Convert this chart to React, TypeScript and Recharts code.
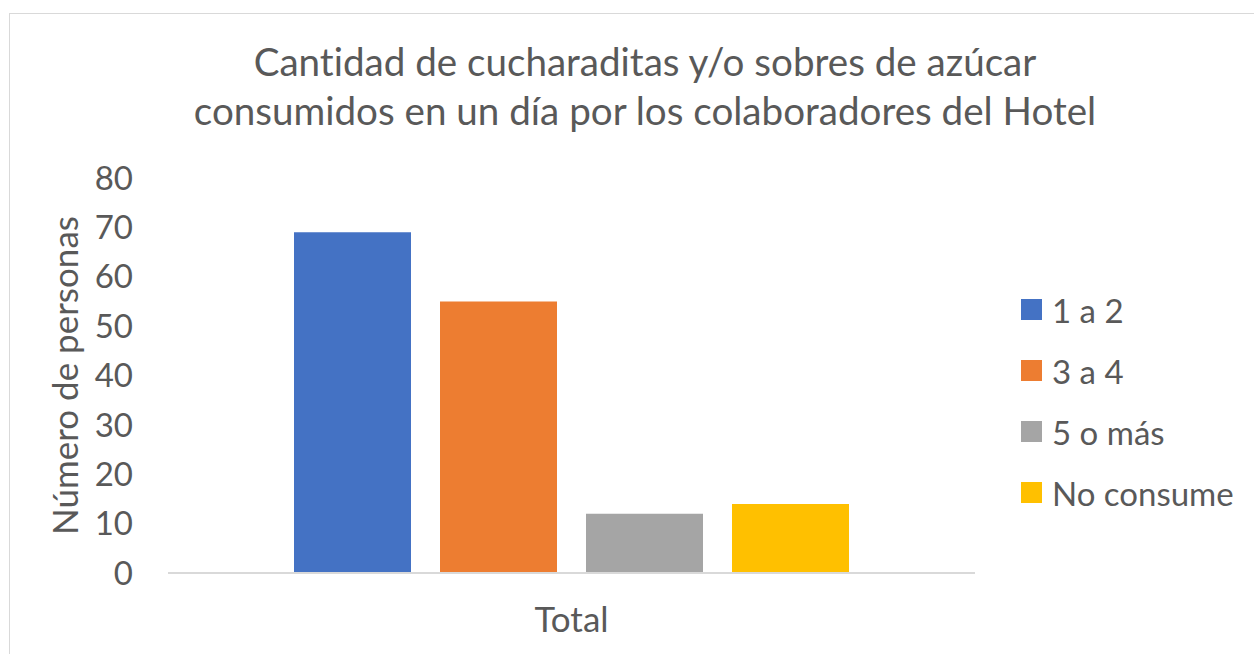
import React from "react";
import { BarChart, Bar, XAxis, YAxis, Legend } from "recharts";

const categories = ["Total"];
const seriesNames = ["1 a 2", "3 a 4", "5 o más", "No consume"];
const seriesValues = [69, 55, 12, 14];
const seriesColors = ["#4472C4", "#ED7D31", "#A5A5A5", "#FFC000"];
const yTicks = [0, 10, 20, 30, 40, 50, 60, 70, 80];

const titleLines = [
  "Cantidad de cucharaditas y/o sobres de azúcar",
  "consumidos en un día por los colaboradores del Hotel",
];

const FONT = "Lato, 'Open Sans', sans-serif";
const TEXT = "#595959";

const data = categories.map((name) => {
  const row: Record<string, string | number> = { name };
  seriesNames.forEach((s, i) => {
    row[s] = seriesValues[i];
  });
  return row;
});

function LegendBox() {
  return (
    <div style={{ paddingLeft: 46, fontFamily: FONT, color: TEXT }}>
      {seriesNames.map((s, i) => (
        <div
          key={s}
          style={{
            display: "flex",
            alignItems: "center",
            height: 61,
            whiteSpace: "nowrap",
          }}
        >
          <span
            style={{
              display: "inline-block",
              flex: "none",
              width: 21,
              height: 21,
              background: seriesColors[i],
              marginRight: 10,
            }}
          />
          <span style={{ fontSize: 33 }}>{s}</span>
        </div>
      ))}
    </div>
  );
}

export default function App() {
  return (
    <div
      style={{
        position: "absolute",
        left: 0,
        top: 0,
        width: 1254,
        height: 654,
        overflow: "hidden",
        background: "#fff",
        fontVariantLigatures: "none",
      }}
    >
      <div
        style={{
          position: "absolute",
          left: 9,
          top: 13,
          width: 1300,
          height: 700,
          border: "1.5px solid #d9d9d9",
        }}
      />
      <div
        style={{
          position: "absolute",
          left: 0,
          width: 1290,
          top: 37,
          textAlign: "center",
          fontFamily: FONT,
          fontSize: 38.6,
          lineHeight: "49px",
          color: TEXT,
        }}
      >
        {titleLines.map((l) => (
          <div key={l}>{l}</div>
        ))}
      </div>
      <BarChart
        width={1254}
        height={654}
        data={data}
        margin={{ top: 178, right: 9, bottom: 0, left: 40 }}
        barCategoryGap={126}
        barGap={29}
        style={{ position: "absolute", left: 0, top: 0 }}
      >
        <XAxis
          dataKey="name"
          height={81}
          tickLine={false}
          tickSize={0}
          tickMargin={34}
          axisLine={{ stroke: "#d9d9d9", strokeWidth: 2 }}
          tick={{ fill: TEXT, fontSize: 35, fontFamily: FONT }}
        />
        <YAxis
          width={128}
          domain={[0, 80]}
          ticks={yTicks}
          axisLine={false}
          tickLine={false}
          tickSize={0}
          tickMargin={35}
          tick={{ fill: TEXT, fontSize: 33, fontFamily: FONT }}
          label={{
            value: "Número de personas",
            angle: -90,
            position: "center",
            dx: -38,
            fill: TEXT,
            fontSize: 35,
            fontFamily: FONT,
          }}
        />
        <Legend
          layout="vertical"
          align="right"
          verticalAlign="middle"
          content={<LegendBox />}
          wrapperStyle={{ width: 270, left: 975, top: 279 }}
        />
        {seriesNames.map((s, i) => (
          <Bar
            key={s}
            dataKey={s}
            fill={seriesColors[i]}
            isAnimationActive={false}
          />
        ))}
      </BarChart>
    </div>
  );
}
